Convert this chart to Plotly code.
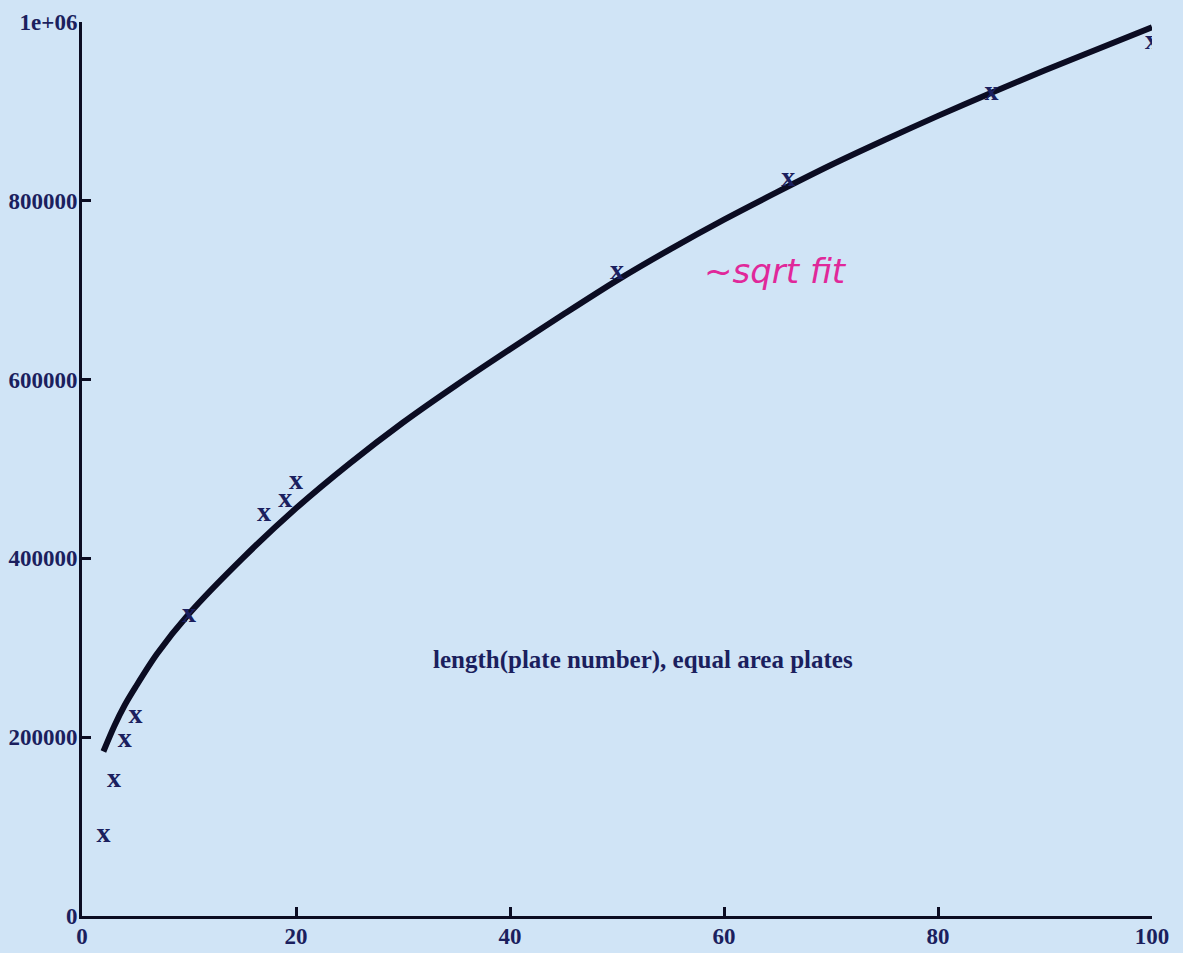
import plotly.graph_objects as go

# measured points (plate number, length)
plate = [2, 3, 4, 5, 10, 17, 19, 20, 50, 66, 85, 100]
length = [91000, 152000, 197000, 224000, 337000, 450000, 465000, 485000, 720000, 824000, 921000, 978000]

# sqrt fit curve
fit_x = [2, 3, 4, 5, 7, 10, 15, 20, 25, 30, 35, 40, 45, 50, 55, 60, 65, 70, 75, 80, 85, 90, 95, 100]
fit_y = [184000, 212000, 236000, 256000, 293000, 338000, 400000, 456000, 506000, 552000, 594000,
         634000, 673000, 711000, 746000, 779000, 810000, 840000, 868000, 895000, 921000, 946000,
         970000, 994000]

x_ticks = [0, 20, 40, 60, 80, 100]
y_ticks = [0, 200000, 400000, 600000, 800000, 1000000]
y_tick_text = ["0", "200000", "400000", "600000", "800000", "1e+06"]

ink = "#1b1f5e"
serif = "Liberation Serif"

fig = go.Figure()
fig.add_trace(go.Scatter(x=fit_x, y=fit_y, mode="lines", line_shape="spline",
                         line=dict(color="#0b0c22", width=6, smoothing=0.8), hoverinfo="skip"))
fig.add_trace(go.Scatter(x=plate, y=length, mode="text", text=["x"] * len(plate),
                         textposition="middle center",
                         textfont=dict(family=serif, size=28, color=ink, weight="bold")))

fig.add_annotation(x=52.4, y=286000, text="<b>length(plate number), equal area plates</b>",
                   showarrow=False, font=dict(family=serif, size=25, color=ink))
fig.add_annotation(x=64.8, y=722000, text="~sqrt fit", showarrow=False,
                   font=dict(family="DejaVu Sans", size=34, color="#e0289a", style="italic"))

axis_common = dict(showgrid=False, zeroline=False, showline=True, linecolor="#0b0c22",
                   linewidth=3, ticks="inside", ticklen=9, tickwidth=3, tickcolor="#0b0c22",
                   automargin=False,
                   tickfont=dict(family=serif, size=23, color=ink, weight="bold"))

fig.update_xaxes(range=[0, 100], tickvals=x_ticks, ticklabelstandoff=-3, **axis_common)
fig.update_yaxes(range=[0, 1000000], tickvals=y_ticks, ticktext=y_tick_text,
                 ticklabelstandoff=-3, **axis_common)

fig.update_layout(width=1183, height=953, showlegend=False,
                  paper_bgcolor="#d0e4f6", plot_bgcolor="#d0e4f6",
                  margin=dict(l=82, r=31, t=22, b=37))

fig.write_html("out.html", config={"displayModeBar": False},
               post_script="document.body.style.margin='0px';document.body.style.overflow='hidden';")
